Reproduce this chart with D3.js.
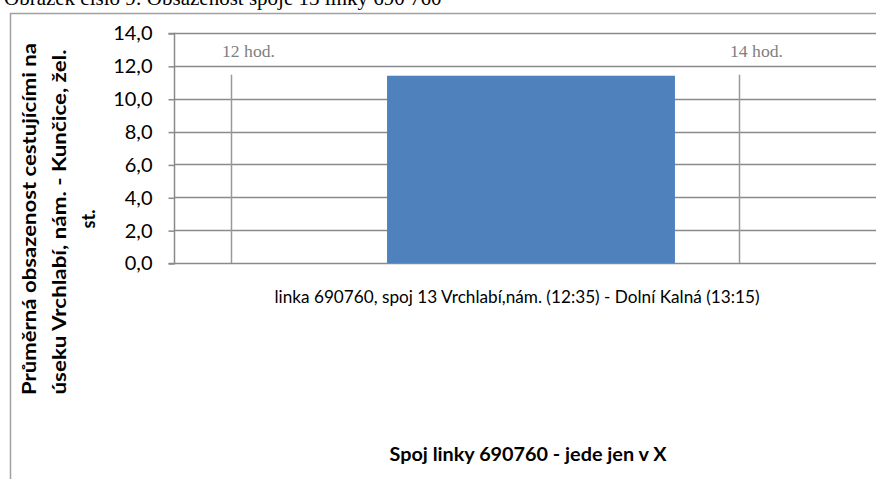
<!DOCTYPE html>
<html><head><meta charset="utf-8">
<script src="https://cdn.jsdelivr.net/npm/d3@7"></script>
<style>body{margin:0;background:#fff;}svg{display:block;}</style>
</head><body>
<script>
const categories = ["linka 690760, spoj 13 Vrchlabí,nám. (12:35) - Dolní Kalná (13:15)"];
const values = [11.4];
const yTicks = [0, 2, 4, 6, 8, 10, 12, 14];
const hourMarks = [12, 14];
const hourLabels = ["12 hod.", "14 hod."];
const titleText = "Obrázek číslo 9: Obsazenost spoje 13 linky 690 760";
const yTitleLines = ["Průměrná obsazenost  cestujícími na", "úseku Vrchlabí, nám. - Kunčice, žel.", "st."];
const xTitle = "Spoj linky 690760 - jede jen v X";

const W = 876, H = 479;
const svg = d3.select("body").append("svg").attr("width", W).attr("height", H);
const sans = "Lato, 'Open Sans', sans-serif";

// page title (cut off at top, as in the source page)
svg.append("text").attr("x", 4).attr("y", 5)
  .attr("font-family", "'Liberation Serif', 'Times New Roman', serif")
  .attr("font-size", 21).attr("fill", "#000").text(titleText);

// chart frame
svg.append("path").attr("d", `M10.5,${H} V13.5 H${W + 5}`)
  .attr("fill", "none").attr("stroke", "#a0a0a0").attr("stroke-width", 1.5);

const plotL = 174, plotR = 888, plotT = 33, plotB = 263;
const y = d3.scaleLinear().domain([0, 14]).range([plotB, plotT]);
const x = d3.scaleBand().domain(categories).range([plotL, plotR]).paddingInner(0).paddingOuter(0.74);
const hx = d3.scaleLinear().domain([12, 14]).range([231, 739]);

// gridlines
svg.append("g").selectAll("line").data(yTicks).join("line")
  .attr("x1", plotL).attr("x2", W + 5)
  .attr("y1", d => Math.round(y(d)) + 0.5).attr("y2", d => Math.round(y(d)) + 0.5)
  .attr("stroke", "#8a8a8a").attr("stroke-width", 1.5);

// y axis
const yAxis = d3.axisLeft(y).tickValues(yTicks).tickSize(6).tickPadding(16)
  .tickFormat(d => d3.format(".1f")(d).replace(".", ","));
const ga = svg.append("g").attr("transform", `translate(${plotL + 0.5},0.5)`).call(yAxis);
ga.select(".domain").attr("stroke", "#8a8a8a").attr("stroke-width", 1.5).attr("d", `M-6,${plotT}H0V${plotB}H-6`);
ga.selectAll(".tick line").attr("stroke", "#8a8a8a").attr("stroke-width", 1.5);
ga.selectAll(".tick text").attr("font-family", sans).attr("font-size", 20).attr("fill", "#000");

// bar
svg.append("g").selectAll("rect").data(values).join("rect")
  .attr("x", (d, i) => x(categories[i])).attr("width", x.bandwidth())
  .attr("y", d => y(d)).attr("height", d => y(0) - y(d))
  .attr("fill", "#4f81bd");

// hour markers
svg.append("g").selectAll("line").data(hourMarks).join("line")
  .attr("x1", d => hx(d) + 0.5).attr("x2", d => hx(d) + 0.5)
  .attr("y1", y(values[0]) - 1).attr("y2", plotB)
  .attr("stroke", "#999").attr("stroke-width", 1.5);
svg.append("g").selectAll("text").data(hourMarks).join("text")
  .attr("x", d => hx(d) - 9).attr("y", 57)
  .attr("font-family", "'Liberation Serif', 'Times New Roman', serif")
  .attr("font-size", 16).attr("fill", "#808080")
  .attr("textLength", 53).attr("lengthAdjust", "spacingAndGlyphs")
  .text((d, i) => hourLabels[i]);

// category label
svg.append("g").selectAll("text").data(categories).join("text")
  .attr("x", d => x(d) + x.bandwidth() / 2 - 14).attr("y", 303)
  .attr("text-anchor", "middle").attr("font-family", sans).attr("font-size", 18).attr("fill", "#000")
  .attr("textLength", 485).attr("lengthAdjust", "spacingAndGlyphs")
  .text(d => d);

// x title
svg.append("text").attr("x", 528).attr("y", 461).attr("text-anchor", "middle")
  .attr("font-family", sans).attr("font-size", 18).attr("font-weight", "bold").attr("fill", "#000")
  .attr("textLength", 277).attr("lengthAdjust", "spacingAndGlyphs")
  .text(xTitle);

// y title
const yLens = [352, 345, null];
const yCenters = [219, 222, 219];
yTitleLines.forEach((l, i) => {
  const t = svg.append("text").attr("transform", `translate(${30 + i * 29.5},${yCenters[i]}) rotate(-90)`)
    .attr("text-anchor", "middle").attr("dy", "0.35em").attr("font-family", sans).attr("font-size", 18)
    .attr("font-weight", "bold").attr("fill", "#000").text(l);
  if (yLens[i]) t.attr("textLength", yLens[i]).attr("lengthAdjust", "spacingAndGlyphs");
});
</script>
</body></html>
